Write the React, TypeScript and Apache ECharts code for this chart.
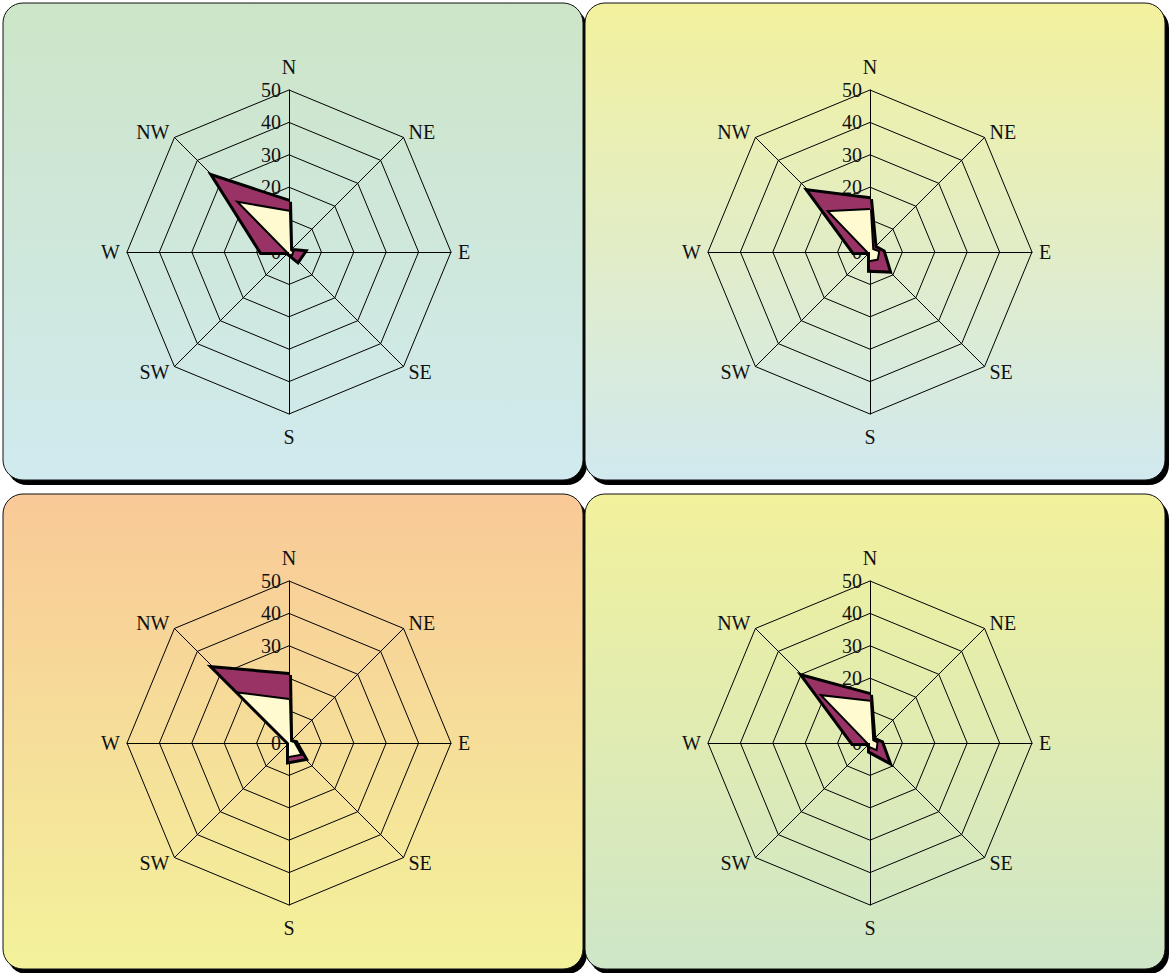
import React, { useEffect, useRef } from "react";
import * as echarts from "echarts";

// Compass directions (clockwise from north)
const directions = ["N", "NE", "E", "SE", "S", "SW", "W", "NW"];
const tickValues = [0, 10, 20, 30, 40, 50];

// Values in compass order [N, NE, E, SE, S, SW, W, NW]
const panel1Outer = [15.5, 0.5, 4.5, 3.8, 0.5, 0, 8.5, 32.6];
const panel1Inner = [12.4, 0.5, 1, 1, 0.5, 0, 0.3, 21.3];
const panel2Outer = [16.3, 2, 4, 8.1, 5.5, 0, 5, 26.4];
const panel2Inner = [13, 1, 2.5, 3, 2.5, 0, 0.5, 17.5];
const panel3Outer = [21, 0.5, 2, 6.7, 5.6, 0, 0, 32.5];
const panel3Inner = [13.3, 0.5, 1.5, 4.8, 4, 0, 0, 21.5];
const panel4Outer = [14.8, 1.5, 3.5, 7.8, 2.5, 0, 5.3, 28.7];
const panel4Inner = [12.7, 1, 2, 2.5, 1, 0, 0.5, 20.3];

const panelOuter = [panel1Outer, panel2Outer, panel3Outer, panel4Outer];
const panelInner = [panel1Inner, panel2Inner, panel3Inner, panel4Inner];
const panelTop = ["#cde5c7", "#f3f19d", "#f9c997", "#f2f19c"];
const panelBottom = ["#d0eaef", "#d1e9ef", "#f3f29b", "#cee6c8"];

const FONT = "Liberation Serif";

export default function App() {
  const ref = useRef<HTMLDivElement>(null);
  useEffect(() => {
    if (!ref.current) return;
    const chart = echarts.init(ref.current, null, { renderer: "svg" });

    // ECharts radar goes counter-clockwise: N, NW, W, SW, S, SE, E, NE
    const ccwIdx = [0, 7, 6, 5, 4, 3, 2, 1];
    const reorder = (arr: number[]) => ccwIdx.map((i) => arr[i]);

    const panels = [
      { x: 3, y: 3, w: 580, h: 477, cx: 289, cy: 252 },
      { x: 585, y: 3, w: 580, h: 477, cx: 870, cy: 252 },
      { x: 3, y: 494, w: 580, h: 475, cx: 289, cy: 743 },
      { x: 585, y: 494, w: 580, h: 475, cx: 870, cy: 743 },
    ];
    const maxV = tickValues[tickValues.length - 1];

    const graphics: any[] = [];
    panels.forEach((p, i) => {
      graphics.push({
        type: "rect",
        z: -20,
        shape: { x: p.x + 4, y: p.y + 5, width: p.w, height: p.h, r: 20 },
        style: { fill: "#000" },
      });
      graphics.push({
        type: "rect",
        z: -10,
        shape: { x: p.x, y: p.y, width: p.w, height: p.h, r: 20 },
        style: {
          fill: new echarts.graphic.LinearGradient(0, 0, 0, 1, [
            { offset: 0, color: panelTop[i] },
            { offset: 1, color: panelBottom[i] },
          ]),
          stroke: "#111",
          lineWidth: 1,
        },
      });
    });

    const radars = panels.map((p) => ({
      center: [p.cx, p.cy],
      radius: 162,
      startAngle: 90,
      splitNumber: tickValues.length - 1,
      shape: "polygon",
      indicator: ccwIdx.map((i) => {
        const d = directions[i];
        const ind: any = { name: d, min: 0, max: maxV };
        if (d === "N") ind.axisLabel = { show: true };
        return ind;
      }),
      axisName: {
        color: "#111",
        fontFamily: FONT,
        fontSize: 20,
        padding: [6, 0, 6, 0],
      },
      axisNameGap: 7,
      axisLine: { lineStyle: { color: "#000", width: 1 } },
      splitLine: { lineStyle: { color: "#000", width: 1 } },
      splitArea: { show: false },
      axisTick: { show: false },
      axisLabel: {
        show: false,
        color: "#111",
        fontFamily: FONT,
        fontSize: 20,
        margin: 8,
      },
    }));

    const series: any[] = [];
    panels.forEach((p, i) => {
      series.push({
        type: "radar",
        radarIndex: i,
        symbol: "none",
        silent: true,
        z: 2,
        lineStyle: { color: "#000", width: 6, join: "miter", miterLimit: 4 },
        areaStyle: { color: "#993366", opacity: 1 },
        data: [{ value: reorder(panelOuter[i]) }],
      });
      series.push({
        type: "radar",
        radarIndex: i,
        symbol: "none",
        silent: true,
        z: 3,
        lineStyle: { color: "#000", width: 4, join: "miter", miterLimit: 4 },
        areaStyle: { color: "#fffad0", opacity: 1 },
        data: [{ value: reorder(panelInner[i]) }],
      });
    });

    chart.setOption({
      animation: false,
      graphic: graphics,
      radar: radars,
      series,
    });
    return () => chart.dispose();
  }, []);
  return (
    <div
      ref={ref}
      style={{ position: "absolute", left: 0, top: 0, width: 1169, height: 973 }}
    />
  );
}
